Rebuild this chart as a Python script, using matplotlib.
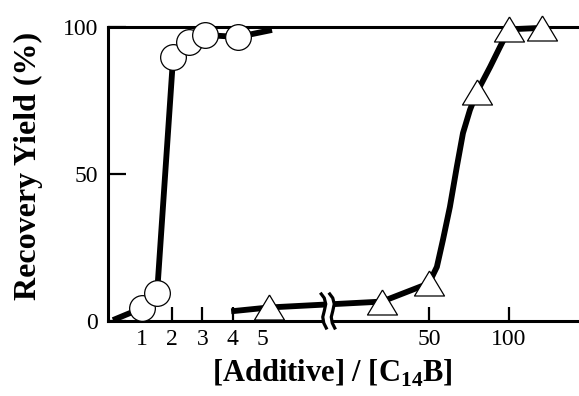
import numpy as np
import matplotlib
matplotlib.use("Agg")
import matplotlib.pyplot as plt
import matplotlib.transforms as mtransforms

plt.rcParams['font.family'] = ['Liberation Serif', 'DejaVu Serif']
plt.rcParams['mathtext.fontset'] = 'custom'
plt.rcParams['mathtext.rm'] = 'Liberation Serif:bold'
plt.rcParams['mathtext.bf'] = 'Liberation Serif:bold'

# circles: measured points and drawn curve
circle_x = [1.0, 1.5, 2.03, 2.55, 3.08, 4.17]
circle_y = [4.4, 9.5, 89.8, 94.9, 97.3, 96.6]
circle_curve_x = [0.04, 1.0, 1.5, 2.03, 2.55, 3.08, 4.17, 5.3]
circle_curve_y = [0.3, 4.4, 9.5, 89.8, 94.9, 97.3, 96.6, 99.0]

# triangles: measured points and drawn curve
tri_x = [5.2, 33.3, 50, 76, 100, 133]
tri_y = [4.6, 6.6, 12.8, 78, 99.2, 99.7]
tri_curve_x = [3.95, 5.2, 33.3, 50, 53.6, 56.5, 60, 63.7, 67.2, 71.4, 76, 85, 92.6, 100, 133]
tri_curve_y = [3.3, 4.6, 6.6, 12.8, 18.4, 27.6, 38.8, 52.4, 63.9, 71.8, 78, 86.4, 93.2, 99.2, 99.7]

xticks = [1, 2, 3, 4, 5, 50, 100]
xtick_labels = ['1', '2', '3', '4', '5', '50', '100']
yticks = [0, 50, 100]
break_x = 21.0


# broken axis: linear 0..6, log beyond 20, squeezed in between
def fwd(v):
    v = np.asarray(v, dtype=float)
    lin = 142 + (v - 1) * 30.25
    lg = 429 + 265.8 * np.log10(np.clip(v, 1e-6, None) / 50)
    p6 = 142 + 5 * 30.25
    p20 = 429 + 265.8 * np.log10(20 / 50)
    mid = p6 + (v - 6) * (p20 - p6) / 14
    return np.where(v <= 6, lin, np.where(v >= 20, lg, mid))


def inv(p):
    p = np.asarray(p, dtype=float)
    p6 = 142 + 5 * 30.25
    p20 = 429 + 265.8 * np.log10(20 / 50)
    lin = 1 + (p - 142) / 30.25
    lg = 50 * 10 ** ((p - 429) / 265.8)
    mid = 6 + (p - p6) * 14 / (p20 - p6)
    return np.where(p <= p6, lin, np.where(p >= p20, lg, mid))


fig = plt.figure(figsize=(5.79, 3.96), dpi=100)
ax = fig.add_axes([108 / 579, 1 - 321 / 396, 1 - 108 / 579, 294 / 396])
ax.set_xscale('function', functions=(fwd, inv))
ax.set_xlim(-0.124, 183.7)
ax.set_ylim(0, 100)

ax.plot(circle_curve_x, circle_curve_y, color='black', lw=4.2, solid_capstyle='butt', zorder=3, clip_on=False)
ax.plot(tri_curve_x, tri_curve_y, color='black', lw=4.2, solid_capstyle='butt', zorder=3, clip_on=False)
ax.plot(circle_x, circle_y, 'o', ms=18.5, mfc='white', mec='black', mew=0.9, zorder=4, clip_on=False)
tri_marker = [(0, 1), (-1.2, -1), (1.2, -1), (0, 1)]
ax.plot(tri_x, tri_y, ls='none', marker=tri_marker, ms=21.6, mfc='white', mec='black', mew=0.9,
        zorder=4, clip_on=False)

# axis break symbol
s1 = np.array([(-7.5, 17), (-4.5, 13), (-3.0, 7), (-4.5, 0), (-6.0, -6), (-5.0, -12), (-2.5, -17)]) / 100
s2 = s1 + np.array([8.5, 0]) / 100
btrans = fig.dpi_scale_trans + mtransforms.ScaledTranslation(break_x, 0, ax.transData)
off = mtransforms.ScaledTranslation(0, 10 / 100, fig.dpi_scale_trans)
gap = np.vstack([s1 + [0.01, 0], s2[::-1] - [0.01, 0]])
ax.fill(gap[:, 0], gap[:, 1], color='white', transform=btrans + off, zorder=5, clip_on=False)
for s in (s1, s2):
    ax.plot(s[:, 0], s[:, 1], color='black', lw=2.3, transform=btrans + off, zorder=6, clip_on=False)

ax.set_xticks(xticks)
ax.set_xticklabels(xtick_labels)
ax.set_yticks(yticks)
ax.tick_params(axis='x', direction='in', length=10, width=1.6, pad=6, labelsize=17)
ax.tick_params(axis='y', direction='in', length=13, width=1.6, pad=7, labelsize=17)
ax.minorticks_off()

for side in ('left', 'bottom', 'top'):
    ax.spines[side].set_linewidth(2.2)
ax.spines['right'].set_visible(False)

ax.set_xlabel('[Additive] / [C$_{14}$B]', fontsize=22, fontweight='bold')
ax.xaxis.set_label_coords(0.476, -0.125)
ax.set_ylabel('Recovery Yield (%)', fontsize=23, fontweight='bold')
ax.yaxis.set_label_coords(-0.138, 0.529)

fig.savefig('out.png', dpi=100)
